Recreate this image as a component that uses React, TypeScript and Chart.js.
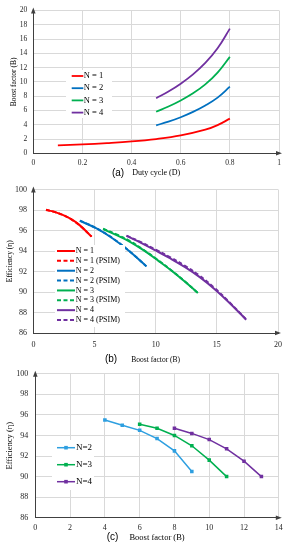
import React, { useEffect, useRef } from 'react';
import { Chart, registerables } from 'chart.js';

Chart.register(...registerables);

const SERIF = '"Liberation Serif", "Times New Roman", serif';
const SANS = '"Liberation Sans", Arial, sans-serif';
const AXIS = '#404040';
const GRID = '#d9d9d9';
const TEXT = '#262626';

// ---------- (a) Boost factor vs duty cycle ----------
const xTicksA = [0, 0.2, 0.4, 0.6, 0.8, 1];
const xTickLabelsA = ['0', '0.2', '0.4', '0.6', '0.8', '1'];
const yTicksA = [0, 2, 4, 6, 8, 10, 12, 14, 16, 18, 20];
const yTickLabelsA = ['0', '2', '4', '6', '8', '10', '12', '14', '16', '18', '20'];
const dutyN1 = [0.1, 0.2, 0.3, 0.4, 0.5, 0.6, 0.7, 0.75, 0.8];
const boostA_N1 = [1.11, 1.25, 1.43, 1.66, 2.0, 2.5, 3.3, 3.95, 4.85];
const dutyN234 = [0.5, 0.55, 0.6, 0.65, 0.7, 0.75, 0.8];
const boostA_N2 = [3.92, 4.43, 5.05, 5.8, 6.7, 7.8, 9.33];
const boostA_N3 = [5.82, 6.55, 7.4, 8.4, 9.65, 11.3, 13.5];
const boostA_N4 = [7.71, 8.65, 9.75, 11.05, 12.65, 14.7, 17.46];

// ---------- (b) Efficiency vs boost factor (calc. & PSIM) ----------
const xTicksB = [0, 5, 10, 15, 20];
const xTickLabelsB = ['0', '5', '10', '15', '20'];
const yTicksB = [86, 88, 90, 92, 94, 96, 98, 100];
const yTickLabelsB = ['86', '88', '90', '92', '94', '96', '98', '100'];
const boostB_N1 = [1.03, 1.7, 2.44, 3.1, 3.8, 4.76];
const effB_N1 = [98.0, 97.82, 97.5, 97.1, 96.5, 95.4];
const effB_N1psim = [98.02, 97.83, 97.5, 97.08, 96.48, 95.4];
const boostB_N2 = [3.8, 5.16, 6.52, 7.88, 9.24];
const effB_N2 = [96.95, 96.2, 95.2, 93.95, 92.5];
const effB_N2psim = [96.96, 96.22, 95.22, 93.96, 92.5];
const boostB_N3 = [5.7, 6.8, 7.9, 9.0, 10.2, 11.3, 12.4, 13.45];
const effB_N3 = [96.13, 95.55, 94.9, 94.08, 93.06, 92.08, 91.0, 89.9];
const effB_N3psim = [96.18, 95.62, 94.96, 94.12, 93.1, 92.1, 91.02, 89.9];
const boostB_N4 = [7.61, 8.8, 10.0, 11.2, 12.4, 13.6, 14.8, 16.0, 17.4];
const effB_N4 = [95.47, 94.8, 94.05, 93.27, 92.42, 91.45, 90.3, 88.98, 87.3];
const effB_N4psim = [95.5, 94.86, 94.13, 93.38, 92.55, 91.58, 90.4, 89.03, 87.32];

// ---------- (c) Efficiency vs boost factor (measured) ----------
const xTicksC = [0, 2, 4, 6, 8, 10, 12, 14];
const xTickLabelsC = ['0', '2', '4', '6', '8', '10', '12', '14'];
const yTicksC = [86, 88, 90, 92, 94, 96, 98, 100];
const yTickLabelsC = ['86', '88', '90', '92', '94', '96', '98', '100'];
const boostC_N2 = [4, 5, 6, 7, 8, 9];
const effC_N2 = [95.5, 95.0, 94.5, 93.7, 92.5, 90.5];
const boostC_N3 = [6, 7, 8, 9, 10, 11];
const effC_N3 = [95.1, 94.7, 94.0, 93.0, 91.6, 90.0];
const boostC_N4 = [8, 9, 10, 11, 12, 13];
const effC_N4 = [94.7, 94.2, 93.6, 92.7, 91.5, 90.0];

const RED = '#ff0000';
const BLUE = '#0070c0';
const GREEN = '#00b050';
const PURPLE = '#7030a0';
const LBLUE = '#2e9fe0';
const DASH = [4, 2.5];

const zip = (xs: number[], ys: number[]) => xs.map((x, i) => ({ x, y: ys[i] }));

type Series = { label: string; xs: number[]; ys: number[]; color: string; dash?: number[]; width: number; marker?: boolean; smooth?: boolean };

type Panel = {
  top: number;
  height: number;
  plot: { left: number; top: number; right: number; bottom: number };
  xTicks: number[]; xLabels: string[]; yTicks: number[]; yLabels: string[];
  xTitle: string; yTitle: string;
  tickSize: number; xTitleSize: number; yTitleSize: number;
  xTickPad: number; yTickPad: number; xTitlePadBottom: number; yTitlePadTop: number;
  caption: { text: string; x: number; y: number; size: number };
  legend: { x: number; y: number; len: number; gap: number; spacing: number; size: number; box: number[]; marker: boolean };
  series: Series[];
};

const panels: Panel[] = [
  {
    top: 0, height: 185,
    plot: { left: 33.3, top: 9, right: 279, bottom: 153.3 },
    xTicks: xTicksA, xLabels: xTickLabelsA, yTicks: yTicksA, yLabels: yTickLabelsA,
    xTitle: 'Duty cycle (D)', yTitle: 'Boost factor (B)',
    tickSize: 7.5, xTitleSize: 8, yTitleSize: 7.5,
    xTickPad: 5, yTickPad: 6, xTitlePadBottom: 7, yTitlePadTop: 9.5,
    caption: { text: '(a)', x: 118, y: 173.5, size: 10 },
    legend: { x: 71.7, y: 76, len: 11.6, gap: 0.4, spacing: 12.2, size: 8.5, box: [66, 70, 46, 48], marker: false },
    series: [
      { label: 'N = 1', xs: dutyN1, ys: boostA_N1, color: RED, width: 1.8, smooth: true },
      { label: 'N = 2', xs: dutyN234, ys: boostA_N2, color: BLUE, width: 1.8, smooth: true },
      { label: 'N = 3', xs: dutyN234, ys: boostA_N3, color: GREEN, width: 1.8, smooth: true },
      { label: 'N = 4', xs: dutyN234, ys: boostA_N4, color: PURPLE, width: 1.8, smooth: true },
    ],
  },
  {
    top: 178, height: 190,
    plot: { left: 33.4, top: 11.5, right: 278.6, bottom: 155 },
    xTicks: xTicksB, xLabels: xTickLabelsB, yTicks: yTicksB, yLabels: yTickLabelsB,
    xTitle: 'Boost factor (B)', yTitle: 'Efficiency (η)',
    tickSize: 8, xTitleSize: 7.5, yTitleSize: 7.5,
    xTickPad: 7, yTickPad: 6.5, xTitlePadBottom: 3, yTitlePadTop: 5.5,
    caption: { text: '(b)', x: 111, y: 181, size: 10 },
    legend: { x: 57, y: 73, len: 18, gap: 0.7, spacing: 9.86, size: 8, box: [55, 67, 70, 82], marker: false },
    series: [
      { label: 'N = 1', xs: boostB_N1, ys: effB_N1, color: RED, width: 2, smooth: true },
      { label: 'N = 1 (PSIM)', xs: boostB_N1, ys: effB_N1psim, color: RED, dash: DASH, width: 2, smooth: true },
      { label: 'N = 2', xs: boostB_N2, ys: effB_N2, color: BLUE, width: 2, smooth: true },
      { label: 'N = 2 (PSIM)', xs: boostB_N2, ys: effB_N2psim, color: BLUE, dash: DASH, width: 2, smooth: true },
      { label: 'N = 3', xs: boostB_N3, ys: effB_N3, color: GREEN, width: 2, smooth: true },
      { label: 'N = 3 (PSIM)', xs: boostB_N3, ys: effB_N3psim, color: GREEN, dash: DASH, width: 2, smooth: true },
      { label: 'N = 4', xs: boostB_N4, ys: effB_N4, color: PURPLE, width: 2, smooth: true },
      { label: 'N = 4 (PSIM)', xs: boostB_N4, ys: effB_N4psim, color: PURPLE, dash: DASH, width: 2, smooth: true },
    ],
  },
  {
    top: 362, height: 188,
    plot: { left: 35.3, top: 7.3, right: 278.8, bottom: 155.7 },
    xTicks: xTicksC, xLabels: xTickLabelsC, yTicks: yTicksC, yLabels: yTickLabelsC,
    xTitle: 'Boost factor (B)', yTitle: 'Efficiency (η)',
    tickSize: 8, xTitleSize: 8.5, yTitleSize: 8.5,
    xTickPad: 5, yTickPad: 7, xTitlePadBottom: 7, yTitlePadTop: 5,
    caption: { text: '(c)', x: 112.5, y: 175.5, size: 10 },
    legend: { x: 57, y: 85.7, len: 18, gap: 1, spacing: 17, size: 9, box: [52, 78, 42, 50], marker: true },
    series: [
      { label: 'N=2', xs: boostC_N2, ys: effC_N2, color: LBLUE, width: 1.5, marker: true },
      { label: 'N=3', xs: boostC_N3, ys: effC_N3, color: GREEN, width: 1.5, marker: true },
      { label: 'N=4', xs: boostC_N4, ys: effC_N4, color: PURPLE, width: 1.5, marker: true },
    ],
  },
];

function makeDeco(p: Panel) {
  return {
    id: 'deco',
    afterDraw(chart: any) {
      const { ctx, chartArea: a } = chart;
      ctx.save();
      // axis arrow heads
      ctx.fillStyle = AXIS;
      ctx.beginPath();
      ctx.moveTo(a.right + 3, a.bottom);
      ctx.lineTo(a.right - 3, a.bottom - 2.3);
      ctx.lineTo(a.right - 3, a.bottom + 2.3);
      ctx.closePath();
      ctx.fill();
      ctx.beginPath();
      ctx.moveTo(a.left, a.top - 3);
      ctx.lineTo(a.left - 2.3, a.top + 3);
      ctx.lineTo(a.left + 2.3, a.top + 3);
      ctx.closePath();
      ctx.fill();

      // legend inside the plot
      const L = p.legend;
      ctx.fillStyle = '#ffffff';
      ctx.fillRect(L.box[0], L.box[1], L.box[2], L.box[3]);
      p.series.forEach((s, i) => {
        const y = L.y + i * L.spacing;
        ctx.strokeStyle = s.color;
        ctx.lineWidth = s.width;
        ctx.setLineDash(s.dash || []);
        ctx.beginPath();
        ctx.moveTo(L.x, y);
        ctx.lineTo(L.x + L.len, y);
        ctx.stroke();
        ctx.setLineDash([]);
        if (L.marker) {
          ctx.fillStyle = s.color;
          ctx.fillRect(L.x + L.len / 2 - 1.8, y - 1.8, 3.6, 3.6);
        }
        ctx.fillStyle = '#000000';
        ctx.font = `${L.size}px ${SERIF}`;
        ctx.textAlign = 'left';
        ctx.textBaseline = 'middle';
        ctx.fillText(s.label, L.x + L.len + L.gap, y);
      });

      // panel caption
      ctx.fillStyle = '#000000';
      ctx.font = `${p.caption.size}px ${SANS}`;
      ctx.textAlign = 'center';
      ctx.textBaseline = 'middle';
      ctx.fillText(p.caption.text, p.caption.x, p.caption.y);
      ctx.restore();
    },
  };
}

function buildConfig(p: Panel): any {
  return {
    type: 'line',
    data: {
      datasets: p.series.map((s) => ({
        label: s.label,
        data: zip(s.xs, s.ys),
        borderColor: s.color,
        backgroundColor: s.color,
        borderWidth: s.width,
        borderDash: s.dash || [],
        fill: false,
        tension: s.smooth ? 0.4 : 0,
        cubicInterpolationMode: 'default',
        pointRadius: s.marker ? 2.5 : 0,
        pointStyle: 'rect',
        pointBorderWidth: 0,
        pointBackgroundColor: s.color,
      })),
    },
    options: {
      responsive: false,
      animation: false,
      devicePixelRatio: 1,
      layout: {
        padding: { left: 0, top: p.plot.top, right: 289 - p.plot.right, bottom: 0 },
      },
      plugins: {
        legend: { display: false },
        tooltip: { enabled: false },
      },
      scales: {
        x: {
          type: 'linear',
          min: p.xTicks[0],
          max: p.xTicks[p.xTicks.length - 1],
          afterBuildTicks: (s: any) => {
            s.ticks = p.xTicks.map((v) => ({ value: v }));
          },
          afterFit: (s: any) => {
            s.height = p.height - p.plot.bottom;
          },
          grid: { color: GRID, lineWidth: 1, drawTicks: false },
          border: { color: AXIS, width: 1 },
          ticks: {
            padding: p.xTickPad,
            color: TEXT,
            font: { family: SERIF, size: p.tickSize },
            maxRotation: 0,
            autoSkip: false,
            callback: (_v: any, i: number) => p.xLabels[i],
          },
          title: {
            display: true,
            text: p.xTitle,
            color: '#000000',
            font: { family: SERIF, size: p.xTitleSize },
            padding: { top: 0, bottom: p.xTitlePadBottom },
          },
        },
        y: {
          type: 'linear',
          min: p.yTicks[0],
          max: p.yTicks[p.yTicks.length - 1],
          afterBuildTicks: (s: any) => {
            s.ticks = p.yTicks.map((v) => ({ value: v }));
          },
          afterFit: (s: any) => {
            s.width = p.plot.left;
          },
          grid: { color: GRID, lineWidth: 1, drawTicks: false },
          border: { color: AXIS, width: 1 },
          ticks: {
            padding: p.yTickPad,
            color: TEXT,
            font: { family: SERIF, size: p.tickSize },
            autoSkip: false,
            callback: (_v: any, i: number) => p.yLabels[i],
          },
          title: {
            display: true,
            text: p.yTitle,
            color: '#000000',
            font: { family: SERIF, size: p.yTitleSize },
            padding: { top: p.yTitlePadTop, bottom: 0 },
          },
        },
      },
    },
    plugins: [makeDeco(p)],
  };
}

function PanelChart({ panel }: { panel: Panel }) {
  const ref = useRef<HTMLCanvasElement | null>(null);
  useEffect(() => {
    if (!ref.current) return;
    const chart = new Chart(ref.current, buildConfig(panel));
    return () => chart.destroy();
  }, [panel]);
  return (
    <div style={{ position: 'absolute', left: 0, top: panel.top, width: 289, height: panel.height }}>
      <canvas ref={ref} width={289} height={panel.height} style={{ display: 'block', width: 289, height: panel.height }} />
    </div>
  );
}

export default function App() {
  return (
    <div style={{ position: 'fixed', left: 0, top: 0, width: 289, height: 550, background: '#ffffff', overflow: 'hidden' }}>
      {panels.map((p, i) => (
        <PanelChart key={i} panel={p} />
      ))}
    </div>
  );
}
